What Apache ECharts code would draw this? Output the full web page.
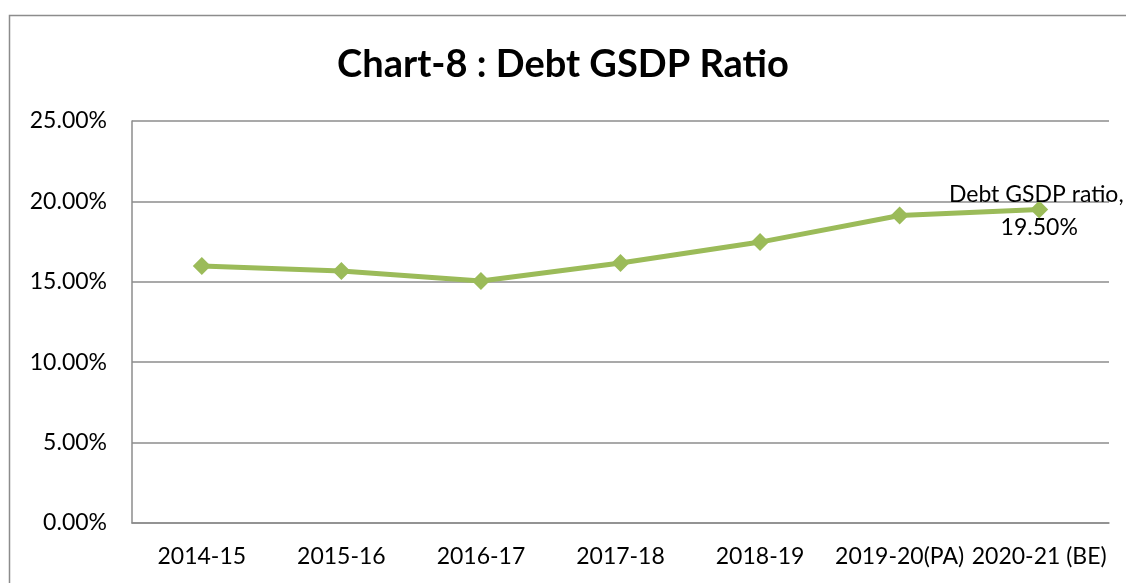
<!DOCTYPE html>
<html><head><meta charset="utf-8">
<script src="https://cdn.jsdelivr.net/npm/echarts@6/dist/echarts.min.js"></script>
<style>html,body{margin:0;padding:0;background:#fff}#c{width:1126px;height:583px}</style>
</head><body><div id="c"></div>
<script>
const categories = ['2014-15','2015-16','2016-17','2017-18','2018-19','2019-20(PA)','2020-21 (BE)'];
const ratioValues = [0.1598, 0.1567, 0.1505, 0.1617, 0.1747, 0.1912, 0.1950];
const seriesName = 'Debt GSDP ratio';
const yTicks = [0, 0.05, 0.10, 0.15, 0.20, 0.25];
const titleText = 'Chart-8 : Debt GSDP Ratio';

const font = 'Lato, "Open Sans", sans-serif';
const chart = echarts.init(document.getElementById('c'), null, {renderer: 'canvas'});
chart.setOption({
  animation: false,
  backgroundColor: '#fff',
  graphic: [{type: 'rect', shape: {x: 9.5, y: 15.5, width: 1300, height: 800}, style: {fill: 'none', stroke: '#8c8c8c', lineWidth: 1.5}, z: -1}],
  title: {text: titleText, left: 'center', top: 41, textStyle: {fontFamily: font, fontWeight: 'bold', fontSize: 38, color: '#000'}},
  grid: {left: 132, top: 121, right: 17, bottom: 60, containLabel: false},
  xAxis: {
    type: 'category', data: categories, boundaryGap: true,
    axisLine: {lineStyle: {color: '#8c8c8c', width: 1.5}},
    axisTick: {show: false},
    axisLabel: {color: '#000', fontFamily: font, fontSize: 23, margin: 22, interval: 0}
  },
  yAxis: {
    type: 'value', min: yTicks[0], max: yTicks[yTicks.length-1], interval: 0.05,
    axisLine: {show: true, lineStyle: {color: '#8c8c8c', width: 1.5}},
    axisTick: {show: false},
    splitLine: {lineStyle: {color: '#8c8c8c', width: 1.5}},
    axisLabel: {color: '#000', fontFamily: font, fontSize: 23, margin: 25, formatter: v => (v*100).toFixed(2) + '%'}
  },
  series: [{
    name: seriesName, type: 'line', data: ratioValues,
    symbol: 'diamond', symbolSize: 18,
    lineStyle: {color: '#9BBB59', width: 5},
    itemStyle: {color: '#9BBB59'},
    label: {show: false},
    markPoint: {
      symbol: 'circle', symbolSize: 0,
      data: [{coord: [categories.length-1, ratioValues[ratioValues.length-1]], value: ratioValues[ratioValues.length-1]}],
      label: {show: true, position: 'inside', formatter: p => seriesName + ', \n' + (p.value*100).toFixed(2) + '%',
        fontFamily: font, fontSize: 23, color: '#000', lineHeight: 33, align: 'center', verticalAlign: 'middle', offset: [0, 2]}
    }
  }]
});
</script></body></html>
